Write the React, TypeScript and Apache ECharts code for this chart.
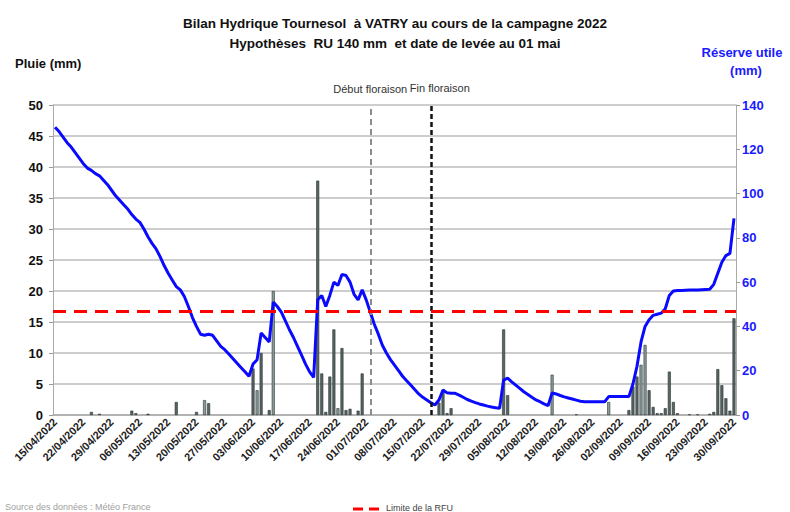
import React, { useEffect, useRef } from 'react';
import * as echarts from 'echarts';

// Daily categories 15/04/2022 -> 30/09/2022
const categories: string[] = [];
for (let i = 0; i < 169; i++) {
  const d = new Date(2022, 3, 15 + i);
  const dd = String(d.getDate()).padStart(2, '0');
  const mm = String(d.getMonth() + 1).padStart(2, '0');
  categories.push(`${dd}/${mm}/${d.getFullYear()}`);
}

// Pluie (mm), one value per day
const rain: number[] = [
  0, 0, 0, 0, 0, 0, 0,
  0, 0, 0.5, 0, 0.2, 0, 0,
  0, 0, 0, 0, 0, 0.7, 0.3,
  0, 0, 0.2, 0, 0, 0, 0,
  0, 0, 2.1, 0, 0, 0, 0,
  0.5, 0, 2.4, 1.9, 0, 0, 0,
  0, 0, 0, 0, 0, 0, 0,
  7.5, 4, 10, 0, 0.8, 20, 0,
  0, 0, 0, 0, 0, 0, 0,
  0, 0, 37.8, 6.7, 0.5, 6.2, 13.8,
  1.1, 10.8, 0.8, 1, 0, 0.7, 6.7,
  0, 0, 0, 0, 0, 0, 0,
  0, 0, 0, 0, 0, 0, 0,
  0, 0, 0, 0, 2, 4, 0.3,
  1.1, 0, 0, 0, 0, 0, 0,
  0, 0, 0, 0, 0, 0, 13.8,
  3.2, 0, 0, 0, 0, 0, 0,
  0, 0, 0, 0, 6.5, 0, 0,
  0, 0, 0, 0.1, 0, 0, 0,
  0, 0, 0, 0, 2.1, 0, 0,
  0, 0, 0.8, 4.6, 6.2, 8.1, 11.3,
  4, 1.3, 0.3, 0.3, 1.1, 7, 2.1,
  0.3, 0, 0, 0.1, 0, 0.1, 0,
  0, 0.2, 0.5, 7.4, 4.8, 2.7, 0.7,
  15.6,
];

// Réserve utile (mm), one value per day
const reserve: number[] = [
  130, 128, 125.5, 123, 121, 118.5, 116,
  113.5, 111.5, 110.5, 109, 108, 106, 104,
  101.5, 99, 97, 95, 93, 90.5, 88.5,
  87, 84, 80.5, 77.5, 75, 71.5, 67.5,
  64, 61, 58, 56.5, 53.5, 49, 44,
  40, 36.5, 36, 36.5, 36, 33.5, 31,
  29.5, 27.5, 25.5, 23.5, 21.5, 19.5, 17.5,
  23, 25, 37, 35, 33, 51, 49,
  46.5, 42.5, 38.5, 35, 31, 27, 23,
  19.5, 17, 52, 54, 49, 54, 60,
  58.5, 63.5, 63, 60, 54.5, 52, 56.5,
  52, 46.5, 41, 36.5, 31.5, 28, 25,
  22.5, 20, 17.5, 15.5, 13.5, 11.5, 9.5,
  8, 6.8, 5.5, 4.5, 6.8, 11.3, 10,
  9.8, 9.8, 9, 8, 7, 6.3, 5.6,
  5, 4.5, 4, 3.6, 3.3, 3, 15.8,
  16.6, 15, 13.5, 12, 10.5, 9.3, 8,
  6.8, 6, 5, 4.2, 10, 9.5, 8.8,
  8.2, 7.7, 7.2, 6.7, 6.2, 6, 6,
  6, 6, 6, 6, 8.3, 8.3, 8.3,
  8.3, 8.3, 8.3, 14, 22, 33, 40,
  43, 45, 45.5, 46, 48, 54, 56,
  56.2, 56.2, 56.3, 56.4, 56.5, 56.5, 56.6,
  56.7, 56.8, 59, 64, 69, 72, 73,
  88.8,
];

const lightBars: number[] = [37, 50, 54, 70, 123, 137, 145, 146];

const rfuLimit = 46.7;
const debutFloraison = '02/07/2022';
const finFloraison = '17/07/2022';

const leftTicks = { min: 0, max: 50, interval: 5 };
const rightTicks = { min: 0, max: 140, interval: 20 };

const FONT = '"Liberation Sans", Arial, sans-serif';

export default function App() {
  const ref = useRef<HTMLDivElement>(null);

  useEffect(() => {
    if (!ref.current) return;
    const chart = echarts.init(ref.current, undefined, { renderer: 'svg' });

    chart.setOption({
      animation: false,
      backgroundColor: '#ffffff',
      textStyle: { fontFamily: FONT },
      title: {
        text: 'Bilan Hydrique Tournesol  à VATRY au cours de la campagne 2022\nHypothèses  RU 140 mm  et date de levée au 01 mai',
        left: 'center',
        top: 8,
        textStyle: {
          fontSize: 13.5,
          fontWeight: 'bold',
          color: '#111',
          lineHeight: 20,
          fontFamily: FONT,
        },
      },
      grid: { left: 53, right: 54, top: 105, bottom: 97 },
      xAxis: {
        type: 'category',
        data: categories,
        boundaryGap: true,
        axisLine: { show: true, lineStyle: { color: '#aaaaaa', width: 1.5 } },
        axisTick: { show: false },
        axisLabel: {
          interval: 6,
          rotate: 45,
          fontSize: 11,
          fontWeight: 'bold',
          color: '#222',
          margin: 5,
          fontFamily: FONT,
        },
        splitLine: { show: false },
      },
      yAxis: [
        {
          type: 'value',
          ...leftTicks,
          axisLine: { show: true, lineStyle: { color: '#aaaaaa', width: 1 } },
          axisTick: { show: true, length: 4, lineStyle: { color: '#999' } },
          axisLabel: {
            fontSize: 13,
            fontWeight: 'bold',
            color: '#111',
            margin: 10,
            fontFamily: FONT,
          },
          splitLine: { show: true, lineStyle: { color: '#bdbdbd', width: 1.5 } },
        },
        {
          type: 'value',
          ...rightTicks,
          position: 'right',
          axisLine: { show: true, lineStyle: { color: '#aaaaaa', width: 1 } },
          axisTick: { show: true, length: 4, lineStyle: { color: '#999' } },
          axisLabel: {
            fontSize: 13,
            fontWeight: 'bold',
            color: '#1a1aff',
            margin: 6,
            fontFamily: FONT,
          },
          splitLine: { show: false },
        },
      ],
      series: [
        {
          name: 'Pluie',
          type: 'bar',
          yAxisIndex: 0,
          barWidth: 3,
          data: rain.map((v, i) => ({
            value: v,
            itemStyle: {
              color: lightBars.includes(i) ? '#8a9b9b' : '#566464',
              borderColor: '#2c3434',
              borderWidth: v > 0 ? 0.6 : 0,
            },
          })),
          markLine: {
            silent: true,
            symbol: ['none', 'none'],
            label: { show: false },
            data: [
              { xAxis: debutFloraison, lineStyle: { color: '#8c8c8c', width: 2, type: [6, 4] } },
              { xAxis: finFloraison, lineStyle: { color: '#111111', width: 2.5, type: [5, 3] } },
            ],
          },
          z: 2,
        },
        {
          name: 'Réserve utile',
          type: 'line',
          yAxisIndex: 1,
          data: reserve,
          showSymbol: false,
          symbol: 'none',
          lineStyle: { color: '#0a0aff', width: 3 },
          markLine: {
            silent: true,
            symbol: ['none', 'none'],
            label: { show: false },
            lineStyle: { color: '#ff0000', width: 3, type: [13, 8] },
            data: [{ yAxis: rfuLimit }],
          },
          z: 4,
        },
      ],
    });

    const xDebut = chart.convertToPixel({ xAxisIndex: 0 }, debutFloraison) as number;
    const xFin = chart.convertToPixel({ xAxisIndex: 0 }, finFloraison) as number;

    chart.setOption({
      graphic: [
        {
          type: 'text',
          x: 15,
          y: 63,
          style: { text: 'Pluie (mm)', font: `bold 13px ${FONT}`, fill: '#111', textVerticalAlign: 'middle' },
        },
        {
          type: 'text',
          x: 742,
          y: 52,
          style: { text: 'Réserve utile', font: `bold 13px ${FONT}`, fill: '#1a1aff', textAlign: 'center', textVerticalAlign: 'middle' },
        },
        {
          type: 'text',
          x: 746,
          y: 70,
          style: { text: '(mm)', font: `bold 13px ${FONT}`, fill: '#1a1aff', textAlign: 'center', textVerticalAlign: 'middle' },
        },
        {
          type: 'text',
          x: xDebut,
          y: 89,
          style: { text: 'Début floraison', font: `11px ${FONT}`, fill: '#333', textAlign: 'center', textVerticalAlign: 'middle' },
        },
        {
          type: 'text',
          x: xFin - 21,
          y: 88,
          style: { text: 'Fin floraison', font: `11px ${FONT}`, fill: '#333', textAlign: 'left', textVerticalAlign: 'middle' },
        },
        {
          type: 'text',
          x: 5,
          y: 507,
          style: { text: 'Source des données : Météo France', font: `9px ${FONT}`, fill: '#a0a0a0', textVerticalAlign: 'middle' },
        },
        {
          type: 'line',
          shape: { x1: 353, y1: 509, x2: 380, y2: 509 },
          style: { stroke: '#ff0000', lineWidth: 3, lineDash: [10, 6] },
        },
        {
          type: 'text',
          x: 386,
          y: 508,
          style: { text: 'Limite de la RFU', font: `9px ${FONT}`, fill: '#444', textVerticalAlign: 'middle' },
        },
      ],
    });

    return () => {
      chart.dispose();
    };
  }, []);

  return (
    <div
      ref={ref}
      style={{ position: 'fixed', left: 0, top: 0, width: 790, height: 512 }}
    />
  );
}
